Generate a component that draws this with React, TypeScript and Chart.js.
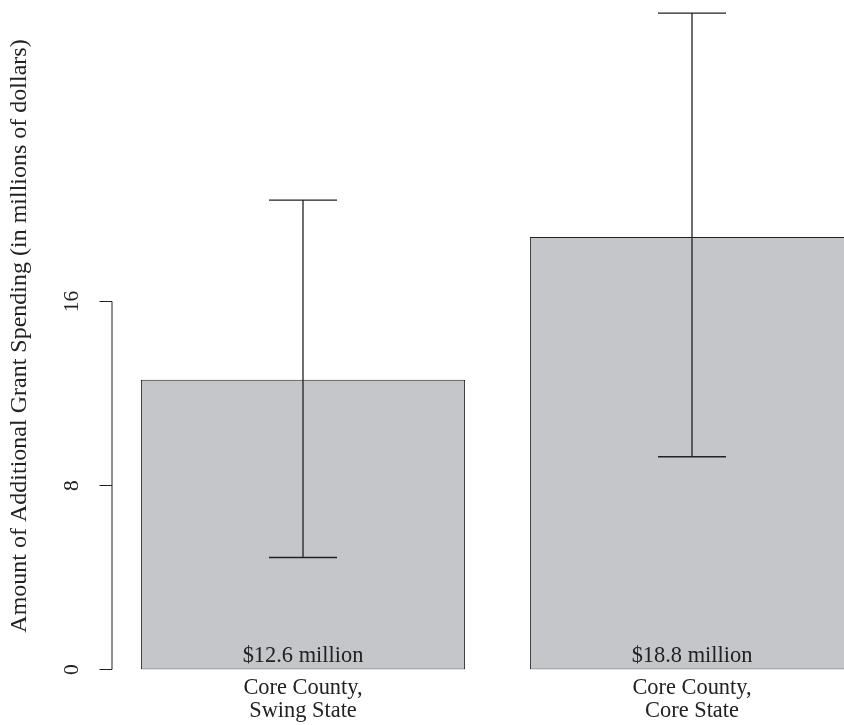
import React, { useEffect, useRef } from "react";
import { Chart, registerables } from "chart.js";

Chart.register(...registerables);

const categories: string[][] = [
  ["Core County,", "Swing State"],
  ["Core County,", "Core State"],
];
const values: number[] = [12.6, 18.8];
const lowerCI: number[] = [4.87, 9.25];
const upperCI: number[] = [20.41, 28.54];
const valueLabels: string[] = ["$12.6 million", "$18.8 million"];
const yTicks: number[] = [0, 8, 16];
const yTitle = "Amount of Additional Grant Spending (in millions of dollars)";

const FONT = '"Liberation Serif", "Times New Roman", serif';

const overlayPlugin = {
  id: "overlay",
  afterDatasetsDraw(chart: any) {
    const ctx = chart.ctx as CanvasRenderingContext2D;
    const x = chart.scales.x;
    const y = chart.scales.y;
    const meta = chart.getDatasetMeta(0);
    ctx.save();
    // error bars
    ctx.strokeStyle = "#222";
    ctx.lineWidth = 1.3;
    meta.data.forEach((bar: any, i: number) => {
      const cx = bar.x;
      const half = bar.width * 0.105;
      const yl = y.getPixelForValue(lowerCI[i]);
      const yu = y.getPixelForValue(upperCI[i]);
      ctx.beginPath();
      ctx.moveTo(cx, yl);
      ctx.lineTo(cx, yu);
      ctx.moveTo(cx - half, yu);
      ctx.lineTo(cx + half, yu);
      ctx.moveTo(cx - half, yl);
      ctx.lineTo(cx + half, yl);
      ctx.stroke();
    });
    // value labels
    ctx.fillStyle = "#222";
    ctx.font = `22.4px ${FONT}`;
    ctx.textAlign = "center";
    ctx.textBaseline = "middle";
    const y0 = y.getPixelForValue(0);
    meta.data.forEach((bar: any, i: number) => {
      ctx.fillText(valueLabels[i], bar.x, y0 - 13.5);
    });
    // x category labels
    categories.forEach((lines, i) => {
      const cx = x.getPixelForTick(i);
      lines.forEach((ln, j) => {
        ctx.fillText(ln, cx, y0 + 19 + j * 23);
      });
    });
    // y axis
    const axX = chart.chartArea.left + 3.5;
    ctx.strokeStyle = "#222";
    ctx.lineWidth = 1;
    ctx.beginPath();
    ctx.moveTo(axX, y.getPixelForValue(yTicks[0]));
    ctx.lineTo(axX, y.getPixelForValue(yTicks[yTicks.length - 1]));
    yTicks.forEach((t) => {
      const py = y.getPixelForValue(t);
      ctx.moveTo(axX, py);
      ctx.lineTo(axX - 12.5, py);
    });
    ctx.stroke();
    ctx.font = `21.5px ${FONT}`;
    yTicks.forEach((t) => {
      const py = y.getPixelForValue(t);
      ctx.save();
      ctx.translate(axX - 40, py);
      ctx.rotate(-Math.PI / 2);
      ctx.fillText(String(t), 0, 0);
      ctx.restore();
    });
    // y title
    ctx.font = `24px ${FONT}`;
    const midY = (chart.chartArea.top + chart.chartArea.bottom) / 2;
    ctx.save();
    ctx.translate(20, midY);
    ctx.rotate(-Math.PI / 2);
    ctx.fillText(yTitle, 0, 0);
    ctx.restore();
    ctx.restore();
  },
};

export default function App() {
  const ref = useRef<HTMLCanvasElement | null>(null);
  useEffect(() => {
    if (!ref.current) return;
    const chart = new Chart(ref.current, {
      type: "bar",
      data: {
        labels: categories.map((c) => c.join(" ")),
        datasets: [
          {
            data: values,
            backgroundColor: "#c5c6c9",
            borderColor: "#222",
            borderWidth: 1,
            borderSkipped: false,
            categoryPercentage: 1,
            barPercentage: 1 / 1.2,
          },
        ],
      },
      options: {
        animation: false,
        responsive: false,
        devicePixelRatio: 1,
        layout: { padding: { left: 108.5, right: 13.5, top: 2.5, bottom: 55.5 } },
        plugins: { legend: { display: false }, tooltip: { enabled: false }, title: { display: false } },
        scales: {
          x: { display: false },
          y: { display: false, min: 0, max: 29 },
        },
      },
      plugins: [overlayPlugin],
    });
    return () => chart.destroy();
  }, []);
  return (
    <div style={{ position: "absolute", left: 0, top: 0, width: 844, height: 725, overflow: "hidden", background: "#fff" }}>
      <canvas ref={ref} width={900} height={725} style={{ display: "block", width: 900, height: 725 }} />
    </div>
  );
}
